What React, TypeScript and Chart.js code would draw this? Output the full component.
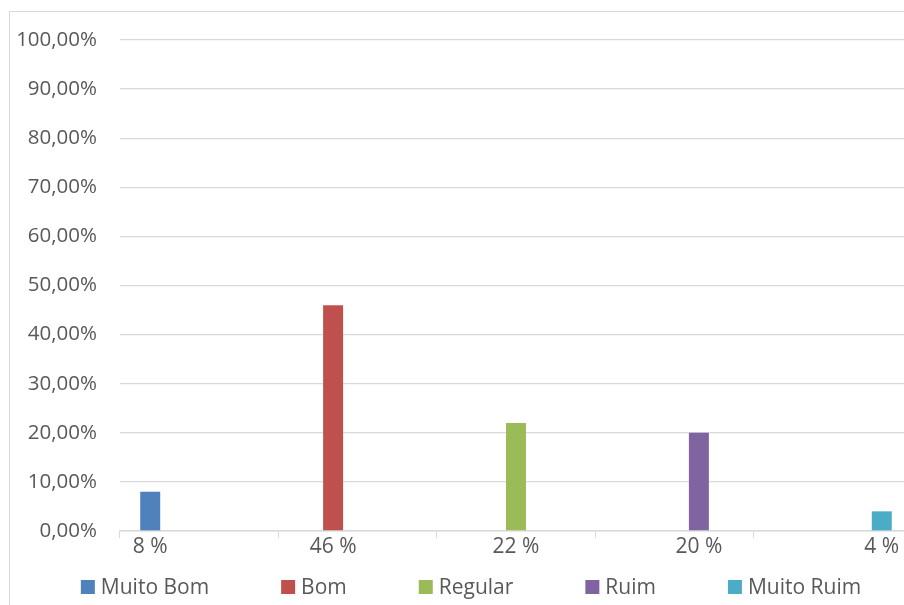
import React, { useEffect, useRef } from "react";
import { Chart, registerables } from "chart.js";

Chart.register(...registerables);

const categories = ["8 %", "46 %", "22 %", "20 %", "4 %"];
const seriesNames = ["Muito Bom", "Bom", "Regular", "Ruim", "Muito Ruim"];
const muitoBom = [8, 0, 0, 0, 0];
const bom = [0, 46, 0, 0, 0];
const regular = [0, 0, 22, 0, 0];
const ruim = [0, 0, 0, 20, 0];
const muitoRuim = [0, 0, 0, 0, 4];
const seriesColors = ["#4F81BD", "#C0504D", "#9BBB59", "#8064A2", "#4BACC6"];

const FONT = "'Open Sans', 'Noto Sans', sans-serif";
const TEXT = "#595959";
const GRID = "#d9d9d9";

export default function App() {
  const ref = useRef<HTMLCanvasElement | null>(null);

  useEffect(() => {
    if (!ref.current) return;
    const values = [muitoBom, bom, regular, ruim, muitoRuim];

    const labelPlugin = {
      id: "customLabels",
      afterDraw(chart: any) {
        const ctx = chart.ctx;
        const area = chart.chartArea;
        ctx.save();
        ctx.font = `21px ${FONT}`;
        ctx.fillStyle = TEXT;
        ctx.textAlign = "center";
        ctx.textBaseline = "top";
        // category labels under the visible bar of each category
        categories.forEach((lab, i) => {
          let x = chart.scales.x.getPixelForValue(i);
          for (let d = 0; d < values.length; d++) {
            if (values[d][i] !== 0) {
              x = chart.getDatasetMeta(d).data[i].x;
              break;
            }
          }
          ctx.fillText(lab, x, area.bottom + 6);
        });
        // legend
        const box = 14;
        const gapText = 6;
        const gapItem = 72;
        ctx.textAlign = "left";
        ctx.textBaseline = "middle";
        const widths = seriesNames.map((n) => ctx.measureText(n).width);
        const total =
          widths.reduce((a, w) => a + box + gapText + w, 0) +
          gapItem * (seriesNames.length - 1);
        let x = chart.width / 2 - total / 2 + 1;
        const yc = 575;
        seriesNames.forEach((n, i) => {
          ctx.fillStyle = seriesColors[i];
          ctx.fillRect(x, yc - box / 2, box, box);
          ctx.fillStyle = TEXT;
          ctx.fillText(n, x + box + gapText, yc + 1);
          x += box + gapText + widths[i] + gapItem;
        });
        ctx.restore();
      },
    };

    const chart = new Chart(ref.current, {
      type: "bar",
      data: {
        labels: categories,
        datasets: seriesNames.map((name, i) => ({
          label: name,
          data: values[i],
          backgroundColor: seriesColors[i],
          borderWidth: 0,
          categoryPercentage: 0.773,
          barPercentage: 0.816,
        })),
      },
      options: {
        responsive: false,
        animation: false,
        layout: { padding: { left: 0, right: 18, top: 28, bottom: 0 } },
        plugins: {
          legend: { display: false },
          tooltip: { enabled: false },
        },
        scales: {
          x: {
            grid: {
              offset: true,
              drawOnChartArea: false,
              drawTicks: true,
              tickLength: 7,
              color: GRID,
              lineWidth: 1,
            },
            border: { display: true, color: GRID, width: 1.5 },
            ticks: { display: false },
            afterFit: (s: any) => {
              s.height = 81;
            },
          },
          y: {
            min: 0,
            max: 100,
            grid: {
              color: GRID,
              lineWidth: 1.3,
              drawTicks: true,
              tickLength: 23,
              tickColor: "rgba(0,0,0,0)",
            },
            border: { display: false },
            ticks: {
              stepSize: 10,
              padding: 0,
              color: TEXT,
              font: { family: FONT, size: 20.5 },
              callback: (v: any) => Number(v).toFixed(2).replace(".", ",") + "%",
            },
            afterFit: (s: any) => {
              s.width = 110;
            },
          },
        },
      },
      plugins: [labelPlugin],
    });
    return () => chart.destroy();
  }, []);

  return (
    <div
      style={{
        position: "fixed",
        left: 0,
        top: 0,
        width: 904,
        height: 605,
        overflow: "hidden",
        background: "#fff",
      }}
    >
      <div
        style={{
          position: "absolute",
          left: 9,
          top: 11,
          border: `1px solid ${GRID}`,
          width: 920,
          height: 600,
        }}
      >
        <canvas ref={ref} width={920} height={600} style={{ display: "block" }} />
      </div>
    </div>
  );
}
